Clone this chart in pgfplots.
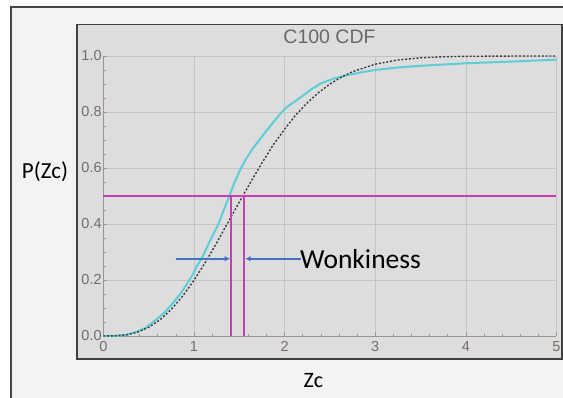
\documentclass[border=0pt]{standalone}
\usepackage{fontspec}
\setmainfont{Liberation Sans}
\newfontfamily\calibri{Carlito}
\usepackage{pgfplots}
\pgfplotsset{compat=1.18}
\usetikzlibrary{arrows.meta}

\definecolor{outerbg}{RGB}{243,243,243}
\definecolor{framegray}{RGB}{70,70,70}
\definecolor{panelbg}{RGB}{221,221,221}
\definecolor{paneledge}{RGB}{64,64,64}
\definecolor{gridgray}{RGB}{196,196,196}
\definecolor{axisgray}{RGB}{150,150,150}
\definecolor{ticktext}{RGB}{118,108,104}
\definecolor{titlegray}{RGB}{105,105,105}
\definecolor{empcyan}{RGB}{92,206,218}
\definecolor{modeldark}{RGB}{60,60,60}
\definecolor{medianmag}{RGB}{200,62,178}
\definecolor{arrowblue}{RGB}{68,114,196}

% empirical CDF of Zc
\pgfplotstableread{
x y
0 0
0.15 0.001
0.25 0.003
0.37 0.015
0.47 0.03
0.59 0.06
0.68 0.085
0.77 0.118
0.86 0.155
0.93 0.19
0.98 0.215
1.03 0.248
1.09 0.28
1.17 0.335
1.27 0.40
1.33 0.45
1.39 0.50
1.45 0.55
1.51 0.593
1.57 0.630
1.64 0.665
1.72 0.699
1.79 0.729
1.86 0.757
1.93 0.785
2.00 0.810
2.06 0.826
2.13 0.841
2.20 0.858
2.30 0.882
2.40 0.902
2.55 0.920
2.70 0.932
2.85 0.942
3.00 0.950
3.25 0.959
3.50 0.965
4.00 0.974
4.50 0.980
5.00 0.987
}\empirical

% reference (model) CDF
\pgfplotstableread{
x y
0 0
0.125 0.0005
0.25 0.0041
0.375 0.0134
0.5 0.0309
0.625 0.0578
0.75 0.0950
0.875 0.1423
1.0 0.1988
1.125 0.2625
1.25 0.3321
1.375 0.4052
1.5 0.4778
1.625 0.5491
1.75 0.6179
1.875 0.6826
2.0 0.7385
2.125 0.7899
2.25 0.8327
2.375 0.8695
2.5 0.8999
2.625 0.9241
2.75 0.9440
3.0 0.9707
3.25 0.9857
3.5 0.9934
3.75 0.9972
4.0 0.9989
4.5 0.9998
5.0 1.0
}\model

\begin{document}
\begin{tikzpicture}[x=1pt,y=1pt]
\useasboundingbox (0,0) rectangle (563,398);
\clip (0,0) rectangle (563,398);
\fill[white] (0,0) rectangle (563,398);
\filldraw[fill=outerbg, draw=framegray, line width=1.2pt] (11,-10) rectangle (580,391);
\filldraw[fill=panelbg, draw=paneledge, line width=1.8pt] (77,39) rectangle (562.3,373.5);

\begin{axis}[
  at={(103.3pt,62pt)}, anchor=south west,
  scale only axis, width=453.2pt, height=280pt,
  xmin=0, xmax=5, ymin=0, ymax=1,
  axis x line=bottom, axis y line=left,
  axis line style={-, draw=axisgray, line width=0.7pt},
  xtick={0,1,2,3,4,5},
  ytick={0,0.2,0.4,0.6,0.8,1.0},
  yticklabels={0.0,0.2,0.4,0.6,0.8,1.0},
  minor x tick num=4, minor y tick num=3,
  tick align=inside,
  major tick length=4pt, minor tick length=2.2pt,
  every tick/.style={draw=axisgray, line width=0.6pt},
  grid=major,
  major grid style={draw=gridgray, line width=0.7pt},
  /pgf/number format/assume math mode=true,
  tick label style={font=\fontsize{14.5}{14.5}\selectfont, text=ticktext},
  xticklabel style={anchor=north, inner sep=0pt, yshift=-5.5pt},
  yticklabel style={anchor=east, inner sep=0pt, xshift=-1.5pt},
  clip=false,
]
\addplot[empcyan, line width=2pt] table[x=x, y=y] {\empirical};
\addplot[modeldark, line width=1.4pt, dash pattern=on 2pt off 1.8pt] table[x=x, y=y] {\model};
\addplot[medianmag, line width=1.2pt] coordinates {(0,0.5) (5,0.5)};
\addplot[medianmag, line width=1.2pt] coordinates {(1.409,0) (1.409,0.5)};
\addplot[medianmag, line width=1.2pt] coordinates {(1.552,0) (1.552,0.5)};
\addplot[arrowblue, line width=2pt, -{Latex[length=5.5pt,width=5.5pt]}] coordinates {(0.80,0.276) (1.40,0.276)};
\addplot[arrowblue, line width=2pt, -{Latex[length=5.5pt,width=5.5pt]}] coordinates {(2.18,0.276) (1.565,0.276)};
\end{axis}

\node[text=titlegray, font=\fontsize{19.5}{19.5}\selectfont] at (329.5pt,361.7pt) {C100 CDF};
\node[anchor=base west, inner sep=0pt, font=\calibri\fontsize{27.5}{27.5}\selectfont] at (300pt,129.7pt) {Wonkiness};
\node[font=\calibri\fontsize{23}{23}\selectfont] at (45pt,226.3pt) {P(Zc)};
\node[font=\calibri\fontsize{22}{22}\selectfont] at (313.3pt,17pt) {Zc};
\end{tikzpicture}
\end{document}
